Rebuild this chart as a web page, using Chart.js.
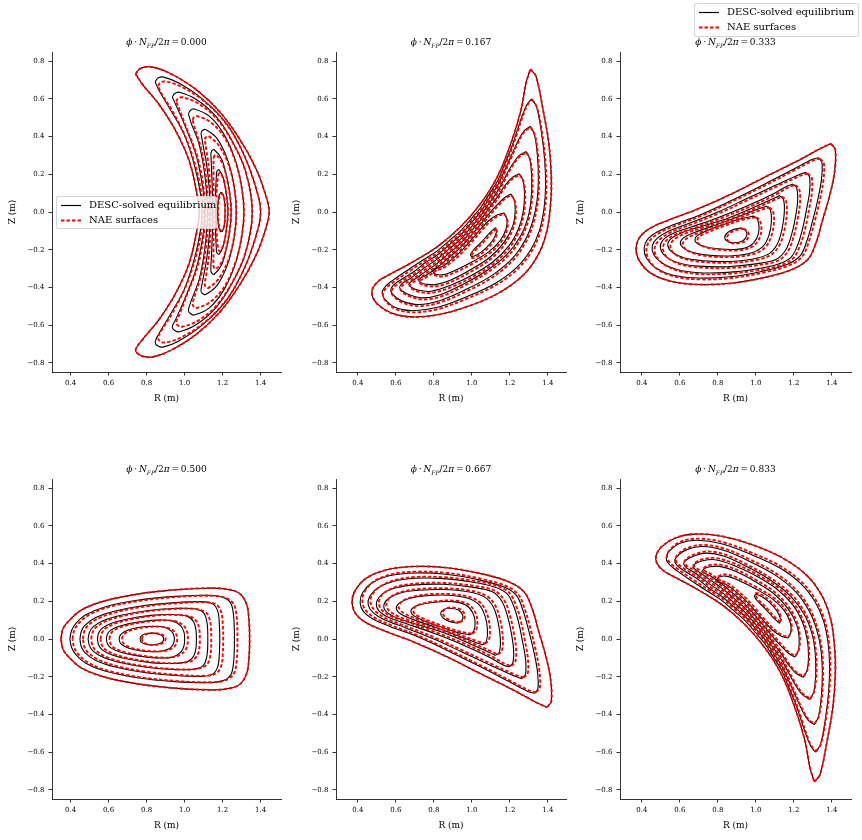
<!DOCTYPE html>
<html>
<head>
<meta charset="utf-8">
<script src="https://cdn.jsdelivr.net/npm/chart.js@4.4.0/dist/chart.umd.min.js"></script>
<style>
  body { margin: 0; background: #fff; }
  #fig { position: relative; width: 862px; height: 840px; overflow: hidden; font-family: 'DejaVu Serif', serif; }
  canvas { position: absolute; }
  .ttl { position: absolute; font-size: 9px; color: #000; white-space: nowrap; transform: translate(-50%, -50%); }
  .ttl sub { font-size: 6px; }
  .lgd { position: absolute; border: 1px solid rgba(204,204,204,0.8); border-radius: 3px;
         background: rgba(255,255,255,0.8); font-size: 10px; color: #000; z-index: 5; }
  .lgd .row { position: absolute; left: 0; height: 14px; line-height: 14px; white-space: nowrap; }
  .lgd svg { position: absolute; left: 4px; top: 6px; }
  .lgd span { position: absolute; left: 32px; top: 0; }
</style>
</head>
<body>
<div id="fig"></div>
<script>
// tick labels
const xTicks = [0.4, 0.6, 0.8, 1.0, 1.2, 1.4];
const yTicks = [-0.8, -0.6, -0.4, -0.2, 0.0, 0.2, 0.4, 0.6, 0.8];
const phases = ['0.000', '0.167', '0.333', '0.500', '0.667', '0.833'];
const seriesNames = ['DESC-solved equilibrium', 'NAE surfaces'];

// surfaces are flat lists R0,Z0,R1,Z1,... (metres), innermost first

// ---- phi*NFP/2pi = 0.000
const boundary000 = [0.742,0.731, 0.762,0.757, 0.80,0.769, 0.85,0.764, 0.937,0.728, 1.06,0.649, 1.182,0.534, 1.286,0.392, 1.374,0.233, 1.426,0.092, 1.445,0.0, 1.426,-0.092, 1.374,-0.233, 1.286,-0.392, 1.182,-0.534, 1.06,-0.649, 0.937,-0.728, 0.85,-0.764, 0.80,-0.769, 0.762,-0.757, 0.742,-0.731, 0.78,-0.674, 0.867,-0.568, 0.955,-0.427, 1.025,-0.268, 1.066,-0.092, 1.077,0.0, 1.066,0.092, 1.025,0.268, 0.955,0.427, 0.867,0.568, 0.78,0.674, 0.742,0.731];
const desc000 = [
  [1.193,0.105, 1.204,0.09, 1.211,0.05, 1.213,0.0, 1.211,-0.05, 1.204,-0.09, 1.193,-0.105, 1.182,-0.09, 1.176,-0.05, 1.174,0.0, 1.176,0.05, 1.182,0.09, 1.193,0.105],
  [1.168,0.21, 1.173,0.221, 1.182,0.223, 1.205,0.175, 1.222,0.08, 1.228,0.0, 1.222,-0.08, 1.205,-0.175, 1.182,-0.223, 1.173,-0.221, 1.168,-0.21, 1.163,-0.1, 1.162,0.0, 1.163,0.1, 1.168,0.21],
  [1.138,0.31, 1.144,0.325, 1.156,0.33, 1.195,0.28, 1.225,0.17, 1.242,0.06, 1.245,0.0, 1.242,-0.06, 1.225,-0.17, 1.195,-0.28, 1.156,-0.33, 1.144,-0.325, 1.138,-0.31, 1.142,-0.22, 1.146,-0.11, 1.148,0.0, 1.146,0.11, 1.142,0.22, 1.138,0.31],
  [1.086,0.418, 1.094,0.432, 1.11,0.437, 1.17,0.39, 1.225,0.28, 1.26,0.14, 1.272,0.0, 1.26,-0.14, 1.225,-0.28, 1.17,-0.39, 1.11,-0.437, 1.094,-0.432, 1.086,-0.418, 1.096,-0.36, 1.116,-0.25, 1.13,-0.12, 1.134,0.0, 1.13,0.12, 1.116,0.25, 1.096,0.36, 1.086,0.418],
  [1.02,0.52, 1.03,0.538, 1.05,0.546, 1.13,0.508, 1.208,0.41, 1.269,0.268, 1.302,0.12, 1.312,0.0, 1.302,-0.12, 1.269,-0.268, 1.208,-0.41, 1.13,-0.508, 1.05,-0.546, 1.03,-0.538, 1.02,-0.52, 1.035,-0.47, 1.077,-0.356, 1.108,-0.18, 1.12,0.0, 1.108,0.18, 1.077,0.356, 1.035,0.47, 1.02,0.52],
  [0.935,0.61, 0.948,0.628, 0.972,0.635, 1.06,0.598, 1.164,0.508, 1.252,0.374, 1.321,0.215, 1.356,0.0, 1.321,-0.215, 1.252,-0.374, 1.164,-0.508, 1.06,-0.598, 0.972,-0.635, 0.948,-0.628, 0.935,-0.61, 0.955,-0.565, 1.0,-0.462, 1.06,-0.303, 1.096,-0.127, 1.106,0.0, 1.096,0.127, 1.06,0.303, 1.0,0.462, 0.955,0.565, 0.935,0.61],
  [0.845,0.69, 0.86,0.71, 0.89,0.715, 0.972,0.682, 1.094,0.598, 1.217,0.472, 1.304,0.322, 1.365,0.162, 1.40,0.0, 1.365,-0.162, 1.304,-0.322, 1.217,-0.472, 1.094,-0.598, 0.972,-0.682, 0.89,-0.715, 0.86,-0.71, 0.845,-0.69, 0.862,-0.65, 0.92,-0.551, 0.998,-0.41, 1.051,-0.25, 1.083,-0.1, 1.092,0.0, 1.083,0.1, 1.051,0.25, 0.998,0.41, 0.92,0.551, 0.862,0.65, 0.845,0.69],
  boundary000
];
const nae000 = [
  [1.195,0.1, 1.205,0.086, 1.212,0.048, 1.214,0.0, 1.212,-0.048, 1.205,-0.086, 1.195,-0.1, 1.185,-0.086, 1.178,-0.048, 1.176,0.0, 1.178,0.048, 1.185,0.086, 1.195,0.1],
  [1.176,0.195, 1.181,0.205, 1.19,0.205, 1.208,0.16, 1.222,0.075, 1.228,0.0, 1.222,-0.075, 1.208,-0.16, 1.19,-0.205, 1.181,-0.205, 1.176,-0.195, 1.168,-0.1, 1.166,0.0, 1.168,0.1, 1.176,0.195],
  [1.152,0.286, 1.157,0.298, 1.167,0.302, 1.2,0.255, 1.226,0.16, 1.242,0.06, 1.245,0.0, 1.242,-0.06, 1.226,-0.16, 1.2,-0.255, 1.167,-0.302, 1.157,-0.298, 1.152,-0.286, 1.152,-0.2, 1.152,-0.1, 1.152,0.0, 1.152,0.1, 1.152,0.2, 1.152,0.286],
  [1.106,0.385, 1.113,0.398, 1.126,0.402, 1.178,0.355, 1.228,0.26, 1.26,0.135, 1.272,0.0, 1.26,-0.135, 1.228,-0.26, 1.178,-0.355, 1.126,-0.402, 1.113,-0.398, 1.106,-0.385, 1.114,-0.33, 1.128,-0.23, 1.135,-0.12, 1.138,0.0, 1.135,0.12, 1.128,0.23, 1.114,0.33, 1.106,0.385],
  [1.042,0.488, 1.05,0.503, 1.066,0.508, 1.134,0.478, 1.21,0.395, 1.269,0.262, 1.302,0.12, 1.312,0.0, 1.302,-0.12, 1.269,-0.262, 1.21,-0.395, 1.134,-0.478, 1.066,-0.508, 1.05,-0.503, 1.042,-0.488, 1.055,-0.44, 1.088,-0.33, 1.114,-0.17, 1.124,0.0, 1.114,0.17, 1.088,0.33, 1.055,0.44, 1.042,0.488],
  [0.955,0.585, 0.966,0.602, 0.987,0.608, 1.064,0.58, 1.164,0.5, 1.252,0.37, 1.321,0.213, 1.356,0.0, 1.321,-0.213, 1.252,-0.37, 1.164,-0.5, 1.064,-0.58, 0.987,-0.608, 0.966,-0.602, 0.955,-0.585, 0.972,-0.545, 1.012,-0.44, 1.068,-0.29, 1.1,-0.127, 1.11,0.0, 1.1,0.127, 1.068,0.29, 1.012,0.44, 0.972,0.545, 0.955,0.585],
  [0.86,0.668, 0.873,0.686, 0.897,0.692, 0.975,0.668, 1.094,0.594, 1.217,0.47, 1.304,0.321, 1.365,0.162, 1.40,0.0, 1.365,-0.162, 1.304,-0.321, 1.217,-0.47, 1.094,-0.594, 0.975,-0.668, 0.897,-0.692, 0.873,-0.686, 0.86,-0.668, 0.878,-0.628, 0.937,-0.533, 1.007,-0.392, 1.06,-0.233, 1.088,-0.1, 1.096,0.0, 1.088,0.1, 1.06,0.233, 1.007,0.392, 0.937,0.533, 0.878,0.628, 0.86,0.668],
  boundary000
];

// ---- phi*NFP/2pi = 0.167
const boundary167 = [1.308,0.757, 1.338,0.718, 1.375,0.54, 1.405,0.365, 1.418,0.19, 1.415,0.05, 1.395,-0.1, 1.35,-0.225, 1.27,-0.335, 1.14,-0.43, 0.98,-0.5, 0.82,-0.545, 0.68,-0.556, 0.58,-0.537, 0.505,-0.49, 0.476,-0.445, 0.478,-0.405, 0.51,-0.365, 0.56,-0.335, 0.677,-0.272, 0.818,-0.184, 0.941,-0.078, 1.047,0.046, 1.135,0.188, 1.206,0.365, 1.259,0.542, 1.285,0.683, 1.308,0.757];
const desc167 = [
  [1.125,-0.083, 1.13,-0.105, 1.11,-0.15, 1.07,-0.195, 1.03,-0.225, 1.0,-0.236, 0.993,-0.225, 1.01,-0.2, 1.05,-0.16, 1.09,-0.115, 1.125,-0.083],
  [1.17,-0.005, 1.185,-0.04, 1.18,-0.09, 1.15,-0.15, 1.09,-0.21, 1.0,-0.265, 0.91,-0.31, 0.85,-0.332, 0.81,-0.33, 0.795,-0.315, 0.805,-0.3, 0.84,-0.292, 0.88,-0.263, 0.941,-0.21, 1.0,-0.145, 1.047,-0.09, 1.09,-0.045, 1.135,-0.015, 1.17,-0.005],
  [1.206,0.095, 1.224,0.06, 1.228,0.0, 1.215,-0.075, 1.17,-0.16, 1.095,-0.24, 0.995,-0.305, 0.89,-0.36, 0.81,-0.385, 0.76,-0.383, 0.732,-0.375, 0.72,-0.362, 0.73,-0.35, 0.76,-0.335, 0.818,-0.294, 0.88,-0.241, 0.941,-0.188, 1.0,-0.12, 1.047,-0.064, 1.09,-0.01, 1.135,0.04, 1.175,0.078, 1.206,0.095],
  [1.25,0.203, 1.27,0.165, 1.277,0.09, 1.27,0.0, 1.245,-0.09, 1.195,-0.18, 1.11,-0.265, 1.0,-0.335, 0.885,-0.39, 0.785,-0.42, 0.72,-0.415, 0.683,-0.4, 0.668,-0.383, 0.68,-0.37, 0.72,-0.342, 0.75,-0.32, 0.818,-0.272, 0.88,-0.219, 0.941,-0.166, 1.0,-0.098, 1.047,-0.042, 1.09,0.02, 1.135,0.08, 1.17,0.135, 1.21,0.18, 1.25,0.203],
  [1.285,0.321, 1.305,0.28, 1.315,0.18, 1.312,0.07, 1.295,-0.03, 1.255,-0.13, 1.185,-0.225, 1.08,-0.31, 0.95,-0.385, 0.83,-0.44, 0.74,-0.455, 0.675,-0.44, 0.635,-0.42, 0.62,-0.40, 0.635,-0.377, 0.68,-0.35, 0.75,-0.296, 0.818,-0.25, 0.88,-0.197, 0.941,-0.144, 1.0,-0.076, 1.047,-0.02, 1.09,0.045, 1.135,0.11, 1.17,0.175, 1.206,0.24, 1.245,0.295, 1.285,0.321],
  [1.308,0.454, 1.33,0.41, 1.345,0.30, 1.35,0.18, 1.343,0.06, 1.32,-0.05, 1.28,-0.15, 1.21,-0.25, 1.10,-0.34, 0.96,-0.415, 0.83,-0.47, 0.72,-0.49, 0.64,-0.475, 0.595,-0.448, 0.573,-0.418, 0.585,-0.39, 0.625,-0.36, 0.70,-0.313, 0.75,-0.272, 0.818,-0.228, 0.88,-0.175, 0.941,-0.122, 1.0,-0.054, 1.047,0.002, 1.09,0.07, 1.135,0.14, 1.17,0.215, 1.206,0.295, 1.24,0.37, 1.275,0.43, 1.308,0.454],
  [1.315,0.60, 1.34,0.56, 1.365,0.43, 1.383,0.28, 1.388,0.14, 1.38,0.02, 1.355,-0.1, 1.31,-0.2, 1.235,-0.295, 1.12,-0.38, 0.97,-0.45, 0.82,-0.505, 0.69,-0.523, 0.6,-0.507, 0.548,-0.47, 0.528,-0.432, 0.54,-0.4, 0.58,-0.365, 0.677,-0.298, 0.75,-0.25, 0.818,-0.206, 0.88,-0.153, 0.941,-0.1, 1.0,-0.032, 1.047,0.024, 1.09,0.092, 1.135,0.164, 1.17,0.248, 1.206,0.335, 1.235,0.42, 1.265,0.51, 1.29,0.57, 1.315,0.60],
  boundary167
];
const nae167 = [
  [1.128,-0.09, 1.133,-0.112, 1.113,-0.158, 1.073,-0.203, 1.033,-0.233, 1.003,-0.244, 0.997,-0.233, 1.014,-0.208, 1.054,-0.168, 1.094,-0.122, 1.128,-0.09],
  [1.172,-0.01, 1.188,-0.047, 1.184,-0.098, 1.154,-0.159, 1.094,-0.219, 1.004,-0.274, 0.914,-0.319, 0.854,-0.341, 0.814,-0.339, 0.799,-0.324, 0.809,-0.309, 0.844,-0.301, 0.884,-0.272, 0.945,-0.219, 1.004,-0.154, 1.051,-0.099, 1.094,-0.053, 1.138,-0.021, 1.172,-0.01],
  [1.208,0.09, 1.227,0.054, 1.232,-0.007, 1.219,-0.083, 1.174,-0.169, 1.099,-0.249, 0.999,-0.314, 0.894,-0.369, 0.814,-0.394, 0.764,-0.392, 0.736,-0.384, 0.724,-0.371, 0.734,-0.359, 0.764,-0.344, 0.822,-0.303, 0.884,-0.25, 0.945,-0.197, 1.004,-0.129, 1.051,-0.073, 1.094,-0.018, 1.138,0.033, 1.177,0.072, 1.208,0.09],
  [1.252,0.198, 1.273,0.159, 1.281,0.083, 1.274,-0.008, 1.249,-0.099, 1.199,-0.189, 1.114,-0.274, 1.004,-0.344, 0.889,-0.399, 0.789,-0.429, 0.724,-0.424, 0.687,-0.409, 0.672,-0.392, 0.684,-0.379, 0.724,-0.351, 0.754,-0.329, 0.822,-0.281, 0.884,-0.228, 0.945,-0.175, 1.004,-0.107, 1.051,-0.051, 1.094,0.012, 1.138,0.073, 1.173,0.129, 1.212,0.175, 1.252,0.198],
  [1.287,0.316, 1.308,0.274, 1.319,0.173, 1.316,0.062, 1.299,-0.039, 1.259,-0.139, 1.189,-0.234, 1.084,-0.319, 0.954,-0.394, 0.834,-0.449, 0.744,-0.464, 0.679,-0.449, 0.639,-0.429, 0.624,-0.409, 0.639,-0.386, 0.684,-0.359, 0.754,-0.305, 0.822,-0.259, 0.884,-0.206, 0.945,-0.153, 1.004,-0.085, 1.051,-0.029, 1.094,0.037, 1.138,0.103, 1.173,0.169, 1.208,0.234, 1.247,0.29, 1.287,0.316],
  [1.31,0.449, 1.333,0.404, 1.349,0.293, 1.354,0.172, 1.347,0.052, 1.324,-0.059, 1.284,-0.159, 1.214,-0.259, 1.104,-0.349, 0.964,-0.424, 0.834,-0.479, 0.724,-0.499, 0.644,-0.484, 0.599,-0.457, 0.577,-0.427, 0.589,-0.399, 0.629,-0.369, 0.704,-0.322, 0.754,-0.281, 0.822,-0.237, 0.884,-0.184, 0.945,-0.131, 1.004,-0.063, 1.051,-0.006, 1.094,0.062, 1.138,0.133, 1.173,0.208, 1.208,0.289, 1.242,0.365, 1.277,0.426, 1.31,0.449],
  [1.317,0.596, 1.343,0.554, 1.369,0.423, 1.387,0.272, 1.392,0.131, 1.384,0.011, 1.359,-0.109, 1.314,-0.209, 1.239,-0.304, 1.124,-0.389, 0.974,-0.459, 0.824,-0.514, 0.694,-0.532, 0.604,-0.516, 0.552,-0.479, 0.532,-0.441, 0.544,-0.409, 0.584,-0.374, 0.681,-0.307, 0.754,-0.259, 0.822,-0.215, 0.884,-0.162, 0.945,-0.109, 1.004,-0.041, 1.051,0.016, 1.094,0.084, 1.138,0.157, 1.173,0.242, 1.208,0.329, 1.237,0.414, 1.267,0.505, 1.292,0.566, 1.317,0.596],
  boundary167
];

// ---- phi*NFP/2pi = 0.333
const boundary333 = [1.395,0.362, 1.418,0.33, 1.414,0.21, 1.388,0.085, 1.352,-0.04, 1.317,-0.163, 1.275,-0.25, 1.19,-0.305, 1.042,-0.348, 0.866,-0.378, 0.69,-0.384, 0.549,-0.366, 0.444,-0.322, 0.385,-0.255, 0.37,-0.195, 0.388,-0.135, 0.444,-0.086, 0.549,-0.04, 0.69,0.014, 0.866,0.093, 1.042,0.182, 1.218,0.27, 1.342,0.338, 1.395,0.362];
const desc333 = [
  [0.925,-0.084, 0.948,-0.1, 0.952,-0.125, 0.932,-0.152, 0.885,-0.163, 0.85,-0.155, 0.836,-0.135, 0.85,-0.11, 0.885,-0.092, 0.925,-0.084],
  [0.99,-0.022, 1.01,-0.042, 1.017,-0.09, 1.004,-0.14, 0.968,-0.18, 0.9,-0.198, 0.80,-0.195, 0.72,-0.18, 0.682,-0.157, 0.686,-0.13, 0.73,-0.105, 0.82,-0.07, 0.92,-0.036, 0.99,-0.022],
  [1.058,0.03, 1.077,0.01, 1.082,-0.05, 1.07,-0.12, 1.04,-0.18, 0.98,-0.216, 0.88,-0.232, 0.76,-0.23, 0.67,-0.215, 0.618,-0.19, 0.603,-0.16, 0.63,-0.13, 0.70,-0.1, 0.80,-0.065, 0.92,-0.02, 1.02,0.018, 1.058,0.03],
  [1.125,0.087, 1.145,0.068, 1.15,0.0, 1.138,-0.09, 1.113,-0.17, 1.068,-0.222, 0.98,-0.25, 0.85,-0.262, 0.72,-0.258, 0.625,-0.244, 0.562,-0.215, 0.537,-0.18, 0.55,-0.145, 0.61,-0.11, 0.72,-0.075, 0.86,-0.03, 0.99,0.025, 1.09,0.07, 1.125,0.087],
  [1.195,0.148, 1.215,0.128, 1.22,0.06, 1.208,-0.03, 1.188,-0.12, 1.158,-0.2, 1.108,-0.25, 1.0,-0.275, 0.85,-0.29, 0.70,-0.287, 0.595,-0.27, 0.525,-0.235, 0.498,-0.19, 0.51,-0.15, 0.56,-0.115, 0.66,-0.08, 0.80,-0.03, 0.95,0.03, 1.09,0.095, 1.165,0.138, 1.195,0.148],
  [1.262,0.21, 1.282,0.188, 1.283,0.11, 1.268,0.02, 1.248,-0.08, 1.222,-0.17, 1.185,-0.24, 1.115,-0.277, 1.0,-0.302, 0.85,-0.32, 0.70,-0.322, 0.585,-0.305, 0.505,-0.27, 0.462,-0.225, 0.455,-0.18, 0.48,-0.14, 0.54,-0.102, 0.65,-0.06, 0.80,0.0, 0.95,0.07, 1.10,0.14, 1.22,0.195, 1.262,0.21],
  [1.33,0.288, 1.348,0.262, 1.345,0.17, 1.325,0.06, 1.298,-0.05, 1.268,-0.155, 1.235,-0.23, 1.17,-0.275, 1.03,-0.315, 0.865,-0.343, 0.70,-0.35, 0.565,-0.335, 0.475,-0.298, 0.425,-0.245, 0.412,-0.192, 0.43,-0.145, 0.48,-0.106, 0.565,-0.068, 0.70,-0.018, 0.865,0.058, 1.04,0.145, 1.2,0.228, 1.295,0.278, 1.33,0.288],
  boundary333
];
const nae333 = [
  [0.935,-0.088, 0.958,-0.104, 0.962,-0.129, 0.942,-0.156, 0.895,-0.167, 0.86,-0.159, 0.847,-0.139, 0.861,-0.114, 0.896,-0.096, 0.935,-0.088],
  [1.002,-0.027, 1.022,-0.047, 1.029,-0.095, 1.016,-0.145, 0.979,-0.185, 0.91,-0.203, 0.81,-0.2, 0.73,-0.185, 0.694,-0.162, 0.698,-0.135, 0.742,-0.11, 0.831,-0.075, 0.931,-0.041, 1.002,-0.027],
  [1.07,0.025, 1.09,0.004, 1.095,-0.056, 1.082,-0.126, 1.051,-0.186, 0.99,-0.222, 0.888,-0.238, 0.768,-0.236, 0.679,-0.221, 0.629,-0.196, 0.616,-0.166, 0.643,-0.136, 0.712,-0.106, 0.811,-0.07, 0.931,-0.025, 1.031,0.013, 1.07,0.025],
  [1.137,0.082, 1.158,0.062, 1.163,-0.006, 1.15,-0.096, 1.124,-0.176, 1.078,-0.228, 0.988,-0.257, 0.857,-0.269, 0.727,-0.265, 0.633,-0.251, 0.572,-0.222, 0.55,-0.186, 0.564,-0.151, 0.623,-0.116, 0.732,-0.08, 0.871,-0.035, 1.0,0.02, 1.101,0.065, 1.137,0.082],
  [1.207,0.143, 1.228,0.122, 1.233,0.054, 1.22,-0.036, 1.2,-0.126, 1.17,-0.206, 1.118,-0.257, 1.008,-0.282, 0.857,-0.297, 0.707,-0.294, 0.603,-0.277, 0.535,-0.242, 0.511,-0.197, 0.524,-0.156, 0.573,-0.121, 0.672,-0.086, 0.811,-0.035, 0.961,0.025, 1.1,0.09, 1.176,0.133, 1.207,0.143],
  [1.272,0.205, 1.294,0.182, 1.295,0.104, 1.28,0.014, 1.26,-0.086, 1.233,-0.176, 1.195,-0.247, 1.124,-0.284, 1.008,-0.309, 0.857,-0.327, 0.707,-0.329, 0.593,-0.312, 0.515,-0.277, 0.474,-0.232, 0.468,-0.187, 0.494,-0.146, 0.553,-0.107, 0.661,-0.065, 0.81,-0.005, 0.96,0.065, 1.109,0.135, 1.23,0.19, 1.272,0.205],
  [1.338,0.283, 1.358,0.257, 1.355,0.165, 1.335,0.055, 1.308,-0.055, 1.278,-0.16, 1.244,-0.236, 1.178,-0.282, 1.036,-0.322, 0.87,-0.35, 0.705,-0.357, 0.572,-0.342, 0.484,-0.305, 0.436,-0.251, 0.424,-0.197, 0.443,-0.15, 0.492,-0.111, 0.575,-0.073, 0.708,-0.022, 0.872,0.054, 1.046,0.14, 1.206,0.223, 1.302,0.273, 1.338,0.283],
  boundary333
];

// ---- phi*NFP/2pi = 0.500
const boundary500 = [0.349,0.0, 0.36,0.055, 0.388,0.093, 0.457,0.154, 0.58,0.202, 0.754,0.238, 0.929,0.259, 1.103,0.269, 1.208,0.266, 1.287,0.243, 1.327,0.181, 1.339,0.093, 1.342,0.0, 1.339,-0.093, 1.327,-0.181, 1.287,-0.243, 1.208,-0.266, 1.103,-0.269, 0.929,-0.259, 0.754,-0.238, 0.58,-0.202, 0.457,-0.154, 0.388,-0.093, 0.36,-0.055, 0.349,0.0];
const desc500 = [
  [0.765,0.0, 0.772,0.017, 0.795,0.028, 0.83,0.031, 0.862,0.027, 0.883,0.015, 0.89,0.0, 0.883,-0.015, 0.862,-0.027, 0.83,-0.031, 0.795,-0.028, 0.772,-0.017, 0.765,0.0],
  [0.655,0.0, 0.662,0.022, 0.685,0.04, 0.73,0.056, 0.80,0.066, 0.87,0.066, 0.918,0.052, 0.94,0.028, 0.946,0.0, 0.94,-0.028, 0.918,-0.052, 0.87,-0.066, 0.80,-0.066, 0.73,-0.056, 0.685,-0.04, 0.662,-0.022, 0.655,0.0],
  [0.588,0.0, 0.594,0.026, 0.612,0.047, 0.66,0.069, 0.745,0.088, 0.85,0.1, 0.935,0.096, 0.98,0.07, 0.997,0.035, 1.0,0.0, 0.997,-0.035, 0.98,-0.07, 0.935,-0.096, 0.85,-0.1, 0.745,-0.088, 0.66,-0.069, 0.612,-0.047, 0.594,-0.026, 0.588,0.0],
  [0.541,0.0, 0.547,0.03, 0.565,0.056, 0.615,0.083, 0.70,0.106, 0.82,0.125, 0.93,0.13, 1.015,0.12, 1.048,0.09, 1.06,0.045, 1.062,0.0, 1.06,-0.045, 1.048,-0.09, 1.015,-0.12, 0.93,-0.13, 0.82,-0.125, 0.70,-0.106, 0.615,-0.083, 0.565,-0.056, 0.547,-0.03, 0.541,0.0],
  [0.492,0.0, 0.499,0.035, 0.517,0.063, 0.57,0.097, 0.665,0.126, 0.80,0.15, 0.94,0.162, 1.05,0.16, 1.1,0.138, 1.118,0.085, 1.122,0.0, 1.118,-0.085, 1.1,-0.138, 1.05,-0.16, 0.94,-0.162, 0.80,-0.15, 0.665,-0.126, 0.57,-0.097, 0.517,-0.063, 0.499,-0.035, 0.492,0.0],
  [0.449,0.0, 0.456,0.04, 0.475,0.072, 0.53,0.112, 0.63,0.147, 0.78,0.176, 0.95,0.193, 1.09,0.198, 1.148,0.186, 1.175,0.145, 1.183,0.075, 1.185,0.0, 1.183,-0.075, 1.175,-0.145, 1.148,-0.186, 1.09,-0.198, 0.95,-0.193, 0.78,-0.176, 0.63,-0.147, 0.53,-0.112, 0.475,-0.072, 0.456,-0.04, 0.449,0.0],
  [0.396,0.0, 0.405,0.045, 0.428,0.083, 0.48,0.128, 0.58,0.17, 0.75,0.205, 0.95,0.226, 1.12,0.232, 1.20,0.222, 1.243,0.19, 1.258,0.12, 1.262,0.0, 1.258,-0.12, 1.243,-0.19, 1.20,-0.222, 1.12,-0.232, 0.95,-0.226, 0.75,-0.205, 0.58,-0.17, 0.48,-0.128, 0.428,-0.083, 0.405,-0.045, 0.396,0.0],
  boundary500
];
const nae500 = [
  [0.775,0.0, 0.782,0.017, 0.805,0.028, 0.84,0.031, 0.872,0.027, 0.893,0.015, 0.9,0.0, 0.893,-0.015, 0.872,-0.027, 0.84,-0.031, 0.805,-0.028, 0.782,-0.017, 0.775,0.0],
  [0.67,0.0, 0.677,0.021, 0.7,0.039, 0.745,0.054, 0.815,0.064, 0.885,0.064, 0.933,0.05, 0.955,0.027, 0.961,0.0, 0.955,-0.027, 0.933,-0.05, 0.885,-0.064, 0.815,-0.064, 0.745,-0.054, 0.7,-0.039, 0.677,-0.021, 0.67,0.0],
  [0.604,0.0, 0.61,0.025, 0.628,0.046, 0.676,0.067, 0.761,0.086, 0.866,0.098, 0.951,0.094, 0.997,0.068, 1.014,0.034, 1.017,0.0, 1.014,-0.034, 0.997,-0.068, 0.951,-0.094, 0.866,-0.098, 0.761,-0.086, 0.676,-0.067, 0.628,-0.046, 0.61,-0.025, 0.604,0.0],
  [0.557,0.0, 0.563,0.029, 0.581,0.054, 0.631,0.081, 0.716,0.104, 0.836,0.123, 0.946,0.128, 1.032,0.118, 1.066,0.088, 1.078,0.044, 1.08,0.0, 1.078,-0.044, 1.066,-0.088, 1.032,-0.118, 0.946,-0.128, 0.836,-0.123, 0.716,-0.104, 0.631,-0.081, 0.581,-0.054, 0.563,-0.029, 0.557,0.0],
  [0.508,0.0, 0.515,0.034, 0.533,0.061, 0.586,0.095, 0.681,0.124, 0.816,0.148, 0.956,0.16, 1.067,0.158, 1.117,0.136, 1.136,0.083, 1.14,0.0, 1.136,-0.083, 1.117,-0.136, 1.067,-0.158, 0.956,-0.16, 0.816,-0.148, 0.681,-0.124, 0.586,-0.095, 0.533,-0.061, 0.515,-0.034, 0.508,0.0],
  [0.465,0.0, 0.471,0.038, 0.49,0.07, 0.545,0.109, 0.645,0.144, 0.795,0.173, 0.965,0.19, 1.106,0.195, 1.165,0.183, 1.193,0.142, 1.201,0.073, 1.203,0.0, 1.201,-0.073, 1.193,-0.142, 1.165,-0.183, 1.106,-0.195, 0.965,-0.19, 0.795,-0.173, 0.645,-0.144, 0.545,-0.109, 0.49,-0.07, 0.471,-0.038, 0.465,0.0],
  [0.41,0.0, 0.418,0.043, 0.44,0.08, 0.492,0.125, 0.592,0.167, 0.762,0.202, 0.962,0.223, 1.132,0.229, 1.212,0.219, 1.257,0.187, 1.274,0.117, 1.278,0.0, 1.274,-0.117, 1.257,-0.187, 1.212,-0.219, 1.132,-0.229, 0.962,-0.223, 0.762,-0.202, 0.592,-0.167, 0.492,-0.125, 0.44,-0.08, 0.418,-0.043, 0.41,0.0],
  boundary500
];

// ---- phi*NFP/2pi = 0.667
const boundary667 = [1.395,-0.362, 1.418,-0.33, 1.414,-0.21, 1.388,-0.085, 1.352,0.04, 1.317,0.163, 1.275,0.25, 1.19,0.305, 1.042,0.348, 0.866,0.378, 0.69,0.384, 0.549,0.366, 0.444,0.322, 0.385,0.255, 0.37,0.195, 0.388,0.135, 0.444,0.086, 0.549,0.04, 0.69,-0.014, 0.866,-0.093, 1.042,-0.182, 1.218,-0.27, 1.342,-0.338, 1.395,-0.362];
const desc667 = [
  [0.925,0.084, 0.948,0.1, 0.952,0.125, 0.932,0.152, 0.885,0.163, 0.85,0.155, 0.836,0.135, 0.85,0.11, 0.885,0.092, 0.925,0.084],
  [0.99,0.022, 1.01,0.042, 1.017,0.09, 1.004,0.14, 0.968,0.18, 0.9,0.198, 0.80,0.195, 0.72,0.18, 0.682,0.157, 0.686,0.13, 0.73,0.105, 0.82,0.07, 0.92,0.036, 0.99,0.022],
  [1.058,-0.03, 1.077,-0.01, 1.082,0.05, 1.07,0.12, 1.04,0.18, 0.98,0.216, 0.88,0.232, 0.76,0.23, 0.67,0.215, 0.618,0.19, 0.603,0.16, 0.63,0.13, 0.70,0.1, 0.80,0.065, 0.92,0.02, 1.02,-0.018, 1.058,-0.03],
  [1.125,-0.087, 1.145,-0.068, 1.15,0.0, 1.138,0.09, 1.113,0.17, 1.068,0.222, 0.98,0.25, 0.85,0.262, 0.72,0.258, 0.625,0.244, 0.562,0.215, 0.537,0.18, 0.55,0.145, 0.61,0.11, 0.72,0.075, 0.86,0.03, 0.99,-0.025, 1.09,-0.07, 1.125,-0.087],
  [1.195,-0.148, 1.215,-0.128, 1.22,-0.06, 1.208,0.03, 1.188,0.12, 1.158,0.2, 1.108,0.25, 1.0,0.275, 0.85,0.29, 0.70,0.287, 0.595,0.27, 0.525,0.235, 0.498,0.19, 0.51,0.15, 0.56,0.115, 0.66,0.08, 0.80,0.03, 0.95,-0.03, 1.09,-0.095, 1.165,-0.138, 1.195,-0.148],
  [1.262,-0.21, 1.282,-0.188, 1.283,-0.11, 1.268,-0.02, 1.248,0.08, 1.222,0.17, 1.185,0.24, 1.115,0.277, 1.0,0.302, 0.85,0.32, 0.70,0.322, 0.585,0.305, 0.505,0.27, 0.462,0.225, 0.455,0.18, 0.48,0.14, 0.54,0.102, 0.65,0.06, 0.80,0.0, 0.95,-0.07, 1.10,-0.14, 1.22,-0.195, 1.262,-0.21],
  [1.33,-0.288, 1.348,-0.262, 1.345,-0.17, 1.325,-0.06, 1.298,0.05, 1.268,0.155, 1.235,0.23, 1.17,0.275, 1.03,0.315, 0.865,0.343, 0.70,0.35, 0.565,0.335, 0.475,0.298, 0.425,0.245, 0.412,0.192, 0.43,0.145, 0.48,0.106, 0.565,0.068, 0.70,0.018, 0.865,-0.058, 1.04,-0.145, 1.2,-0.228, 1.295,-0.278, 1.33,-0.288],
  boundary667
];
const nae667 = [
  [0.935,0.088, 0.958,0.104, 0.962,0.129, 0.942,0.156, 0.895,0.167, 0.86,0.159, 0.847,0.139, 0.861,0.114, 0.896,0.096, 0.935,0.088],
  [1.002,0.027, 1.022,0.047, 1.029,0.095, 1.016,0.145, 0.979,0.185, 0.91,0.203, 0.81,0.2, 0.73,0.185, 0.694,0.162, 0.698,0.135, 0.742,0.11, 0.831,0.075, 0.931,0.041, 1.002,0.027],
  [1.07,-0.025, 1.09,-0.004, 1.095,0.056, 1.082,0.126, 1.051,0.186, 0.99,0.222, 0.888,0.238, 0.768,0.236, 0.679,0.221, 0.629,0.196, 0.616,0.166, 0.643,0.136, 0.712,0.106, 0.811,0.07, 0.931,0.025, 1.031,-0.013, 1.07,-0.025],
  [1.137,-0.082, 1.158,-0.062, 1.163,0.006, 1.15,0.096, 1.124,0.176, 1.078,0.228, 0.988,0.257, 0.857,0.269, 0.727,0.265, 0.633,0.251, 0.572,0.222, 0.55,0.186, 0.564,0.151, 0.623,0.116, 0.732,0.08, 0.871,0.035, 1.0,-0.02, 1.101,-0.065, 1.137,-0.082],
  [1.207,-0.143, 1.228,-0.122, 1.233,-0.054, 1.22,0.036, 1.2,0.126, 1.17,0.206, 1.118,0.257, 1.008,0.282, 0.857,0.297, 0.707,0.294, 0.603,0.277, 0.535,0.242, 0.511,0.197, 0.524,0.156, 0.573,0.121, 0.672,0.086, 0.811,0.035, 0.961,-0.025, 1.1,-0.09, 1.176,-0.133, 1.207,-0.143],
  [1.272,-0.205, 1.294,-0.182, 1.295,-0.104, 1.28,-0.014, 1.26,0.086, 1.233,0.176, 1.195,0.247, 1.124,0.284, 1.008,0.309, 0.857,0.327, 0.707,0.329, 0.593,0.312, 0.515,0.277, 0.474,0.232, 0.468,0.187, 0.494,0.146, 0.553,0.107, 0.661,0.065, 0.81,0.005, 0.96,-0.065, 1.109,-0.135, 1.23,-0.19, 1.272,-0.205],
  [1.338,-0.283, 1.358,-0.257, 1.355,-0.165, 1.335,-0.055, 1.308,0.055, 1.278,0.16, 1.244,0.236, 1.178,0.282, 1.036,0.322, 0.87,0.35, 0.705,0.357, 0.572,0.342, 0.484,0.305, 0.436,0.251, 0.424,0.197, 0.443,0.15, 0.492,0.111, 0.575,0.073, 0.708,0.022, 0.872,-0.054, 1.046,-0.14, 1.206,-0.223, 1.302,-0.273, 1.338,-0.283],
  boundary667
];

// ---- phi*NFP/2pi = 0.833
const boundary833 = [1.308,-0.757, 1.338,-0.718, 1.375,-0.54, 1.405,-0.365, 1.418,-0.19, 1.415,-0.05, 1.395,0.1, 1.35,0.225, 1.27,0.335, 1.14,0.43, 0.98,0.5, 0.82,0.545, 0.68,0.556, 0.58,0.537, 0.505,0.49, 0.476,0.445, 0.478,0.405, 0.51,0.365, 0.56,0.335, 0.677,0.272, 0.818,0.184, 0.941,0.078, 1.047,-0.046, 1.135,-0.188, 1.206,-0.365, 1.259,-0.542, 1.285,-0.683, 1.308,-0.757];
const desc833 = [
  [1.125,0.083, 1.13,0.105, 1.11,0.15, 1.07,0.195, 1.03,0.225, 1.0,0.236, 0.993,0.225, 1.01,0.2, 1.05,0.16, 1.09,0.115, 1.125,0.083],
  [1.17,0.005, 1.185,0.04, 1.18,0.09, 1.15,0.15, 1.09,0.21, 1.0,0.265, 0.91,0.31, 0.85,0.332, 0.81,0.33, 0.795,0.315, 0.805,0.3, 0.84,0.292, 0.88,0.263, 0.941,0.21, 1.0,0.145, 1.047,0.09, 1.09,0.045, 1.135,0.015, 1.17,0.005],
  [1.206,-0.095, 1.224,-0.06, 1.228,0.0, 1.215,0.075, 1.17,0.16, 1.095,0.24, 0.995,0.305, 0.89,0.36, 0.81,0.385, 0.76,0.383, 0.732,0.375, 0.72,0.362, 0.73,0.35, 0.76,0.335, 0.818,0.294, 0.88,0.241, 0.941,0.188, 1.0,0.12, 1.047,0.064, 1.09,0.01, 1.135,-0.04, 1.175,-0.078, 1.206,-0.095],
  [1.25,-0.203, 1.27,-0.165, 1.277,-0.09, 1.27,0.0, 1.245,0.09, 1.195,0.18, 1.11,0.265, 1.0,0.335, 0.885,0.39, 0.785,0.42, 0.72,0.415, 0.683,0.4, 0.668,0.383, 0.68,0.37, 0.72,0.342, 0.75,0.32, 0.818,0.272, 0.88,0.219, 0.941,0.166, 1.0,0.098, 1.047,0.042, 1.09,-0.02, 1.135,-0.08, 1.17,-0.135, 1.21,-0.18, 1.25,-0.203],
  [1.285,-0.321, 1.305,-0.28, 1.315,-0.18, 1.312,-0.07, 1.295,0.03, 1.255,0.13, 1.185,0.225, 1.08,0.31, 0.95,0.385, 0.83,0.44, 0.74,0.455, 0.675,0.44, 0.635,0.42, 0.62,0.40, 0.635,0.377, 0.68,0.35, 0.75,0.296, 0.818,0.25, 0.88,0.197, 0.941,0.144, 1.0,0.076, 1.047,0.02, 1.09,-0.045, 1.135,-0.11, 1.17,-0.175, 1.206,-0.24, 1.245,-0.295, 1.285,-0.321],
  [1.308,-0.454, 1.33,-0.41, 1.345,-0.30, 1.35,-0.18, 1.343,-0.06, 1.32,0.05, 1.28,0.15, 1.21,0.25, 1.10,0.34, 0.96,0.415, 0.83,0.47, 0.72,0.49, 0.64,0.475, 0.595,0.448, 0.573,0.418, 0.585,0.39, 0.625,0.36, 0.70,0.313, 0.75,0.272, 0.818,0.228, 0.88,0.175, 0.941,0.122, 1.0,0.054, 1.047,-0.002, 1.09,-0.07, 1.135,-0.14, 1.17,-0.215, 1.206,-0.295, 1.24,-0.37, 1.275,-0.43, 1.308,-0.454],
  [1.315,-0.60, 1.34,-0.56, 1.365,-0.43, 1.383,-0.28, 1.388,-0.14, 1.38,-0.02, 1.355,0.1, 1.31,0.2, 1.235,0.295, 1.12,0.38, 0.97,0.45, 0.82,0.505, 0.69,0.523, 0.6,0.507, 0.548,0.47, 0.528,0.432, 0.54,0.4, 0.58,0.365, 0.677,0.298, 0.75,0.25, 0.818,0.206, 0.88,0.153, 0.941,0.1, 1.0,0.032, 1.047,-0.024, 1.09,-0.092, 1.135,-0.164, 1.17,-0.248, 1.206,-0.335, 1.235,-0.42, 1.265,-0.51, 1.29,-0.57, 1.315,-0.60],
  boundary833
];
const nae833 = [
  [1.128,0.09, 1.133,0.112, 1.113,0.158, 1.073,0.203, 1.033,0.233, 1.003,0.244, 0.997,0.233, 1.014,0.208, 1.054,0.168, 1.094,0.122, 1.128,0.09],
  [1.172,0.01, 1.188,0.047, 1.184,0.098, 1.154,0.159, 1.094,0.219, 1.004,0.274, 0.914,0.319, 0.854,0.341, 0.814,0.339, 0.799,0.324, 0.809,0.309, 0.844,0.301, 0.884,0.272, 0.945,0.219, 1.004,0.154, 1.051,0.099, 1.094,0.053, 1.138,0.021, 1.172,0.01],
  [1.208,-0.09, 1.227,-0.054, 1.232,0.007, 1.219,0.083, 1.174,0.169, 1.099,0.249, 0.999,0.314, 0.894,0.369, 0.814,0.394, 0.764,0.392, 0.736,0.384, 0.724,0.371, 0.734,0.359, 0.764,0.344, 0.822,0.303, 0.884,0.25, 0.945,0.197, 1.004,0.129, 1.051,0.073, 1.094,0.018, 1.138,-0.033, 1.177,-0.072, 1.208,-0.09],
  [1.252,-0.198, 1.273,-0.159, 1.281,-0.083, 1.274,0.008, 1.249,0.099, 1.199,0.189, 1.114,0.274, 1.004,0.344, 0.889,0.399, 0.789,0.429, 0.724,0.424, 0.687,0.409, 0.672,0.392, 0.684,0.379, 0.724,0.351, 0.754,0.329, 0.822,0.281, 0.884,0.228, 0.945,0.175, 1.004,0.107, 1.051,0.051, 1.094,-0.012, 1.138,-0.073, 1.173,-0.129, 1.212,-0.175, 1.252,-0.198],
  [1.287,-0.316, 1.308,-0.274, 1.319,-0.173, 1.316,-0.062, 1.299,0.039, 1.259,0.139, 1.189,0.234, 1.084,0.319, 0.954,0.394, 0.834,0.449, 0.744,0.464, 0.679,0.449, 0.639,0.429, 0.624,0.409, 0.639,0.386, 0.684,0.359, 0.754,0.305, 0.822,0.259, 0.884,0.206, 0.945,0.153, 1.004,0.085, 1.051,0.029, 1.094,-0.037, 1.138,-0.103, 1.173,-0.169, 1.208,-0.234, 1.247,-0.29, 1.287,-0.316],
  [1.31,-0.449, 1.333,-0.404, 1.349,-0.293, 1.354,-0.172, 1.347,-0.052, 1.324,0.059, 1.284,0.159, 1.214,0.259, 1.104,0.349, 0.964,0.424, 0.834,0.479, 0.724,0.499, 0.644,0.484, 0.599,0.457, 0.577,0.427, 0.589,0.399, 0.629,0.369, 0.704,0.322, 0.754,0.281, 0.822,0.237, 0.884,0.184, 0.945,0.131, 1.004,0.063, 1.051,0.006, 1.094,-0.062, 1.138,-0.133, 1.173,-0.208, 1.208,-0.289, 1.242,-0.365, 1.277,-0.426, 1.31,-0.449],
  [1.317,-0.596, 1.343,-0.554, 1.369,-0.423, 1.387,-0.272, 1.392,-0.131, 1.384,-0.011, 1.359,0.109, 1.314,0.209, 1.239,0.304, 1.124,0.389, 0.974,0.459, 0.824,0.514, 0.694,0.532, 0.604,0.516, 0.552,0.479, 0.532,0.441, 0.544,0.409, 0.584,0.374, 0.681,0.307, 0.754,0.259, 0.822,0.215, 0.884,0.162, 0.945,0.109, 1.004,0.041, 1.051,-0.016, 1.094,-0.084, 1.138,-0.157, 1.173,-0.242, 1.208,-0.329, 1.237,-0.414, 1.267,-0.505, 1.292,-0.566, 1.317,-0.596],
  boundary833
];

const descAll = [desc000, desc167, desc333, desc500, desc667, desc833];
const naeAll = [nae000, nae167, nae333, nae500, nae667, nae833];

// layout of the 2x3 grid (pixels)
const plotLeft = [52, 336, 620];
const plotWidth = [229, 230, 231];
const xMinCol = [0.302, 0.285, 0.285];
const plotTop = [52, 479];
const plotHeight = 320;
const AXW = 52, AXH = 38, PADT = 22, PADR = 8;

Chart.defaults.font.family = "'DejaVu Serif', serif";
Chart.defaults.color = '#000';

function toPts(a) {
  const p = [];
  for (let i = 0; i < a.length; i += 2) p.push({x: a[i], y: a[i + 1]});
  return p;
}
function fmt(v) {
  return v.toFixed(1).replace('-', '\u2212');
}

const fig = document.getElementById('fig');

for (let k = 0; k < 6; k++) {
  const col = k % 3, row = Math.floor(k / 3);
  const w = plotWidth[col];
  const cv = document.createElement('canvas');
  const cw = AXW + w + PADR, ch = PADT + plotHeight + AXH;
  cv.width = cw; cv.height = ch;
  cv.style.left = (plotLeft[col] - AXW) + 'px';
  cv.style.top = (plotTop[row] - PADT) + 'px';
  cv.style.width = cw + 'px'; cv.style.height = ch + 'px';
  fig.appendChild(cv);

  const datasets = [];
  descAll[k].forEach(function (s) {
    datasets.push({label: seriesNames[0], data: toPts(s), showLine: true, borderColor: '#000',
      borderWidth: 1.1, pointRadius: 0, tension: 0.35, order: 1, borderJoinStyle: 'round'});
  });
  naeAll[k].forEach(function (s) {
    datasets.push({label: seriesNames[1], data: toPts(s), showLine: true, borderColor: '#ff0000',
      borderWidth: 1.9, borderDash: [3.5, 2], pointRadius: 0, tension: 0.35, order: 0, borderJoinStyle: 'round'});
  });

  const xmin = xMinCol[col];
  const xmax = xmin + w / 190;
  new Chart(cv, {
    type: 'scatter',
    data: {datasets: datasets},
    options: {
      animation: false,
      responsive: false,
      devicePixelRatio: 1,
      layout: {padding: {left: 0, right: PADR, top: PADT, bottom: 0}},
      plugins: {legend: {display: false}, tooltip: {enabled: false}},
      scales: {
        x: {
          type: 'linear', min: xmin, max: xmax,
          afterBuildTicks: function (s) { s.ticks = xTicks.map(function (v) { return {value: v}; }); },
          afterFit: function (s) { s.height = AXH; },
          grid: {display: true, drawOnChartArea: false, drawTicks: true, tickLength: 3.5, tickWidth: 0.8, color: '#000'},
          border: {display: true, color: '#000', width: 0.8},
          ticks: {font: {size: 7}, color: '#000', padding: 3, maxRotation: 0, autoSkip: false,
                  callback: function (v) { return fmt(v); }},
          title: {display: true, text: 'R (m)', font: {size: 9}, color: '#000', padding: {top: 0, bottom: 6}}
        },
        y: {
          type: 'linear', min: -0.848, max: 0.848,
          afterBuildTicks: function (s) { s.ticks = yTicks.map(function (v) { return {value: v}; }); },
          afterFit: function (s) { s.width = AXW; },
          grid: {display: true, drawOnChartArea: false, drawTicks: true, tickLength: 3.5, tickWidth: 0.8, color: '#000'},
          border: {display: true, color: '#000', width: 0.8},
          ticks: {font: {size: 7}, color: '#000', padding: 4, autoSkip: false,
                  callback: function (v) { return fmt(v); }},
          title: {display: true, text: 'Z (m)', font: {size: 9}, color: '#000', padding: {top: 7, bottom: 0}}
        }
      }
    }
  });

  const t = document.createElement('div');
  t.className = 'ttl';
  t.style.left = (plotLeft[col] + w / 2) + 'px';
  t.style.top = (plotTop[row] - 9) + 'px';
  t.innerHTML = '<i>\u03d5</i>\u2009\u00b7\u2009<i>N</i><sub><i>FP</i></sub>/2<i>\u03c0</i>\u2009=\u2009' + phases[k];
  fig.appendChild(t);
}

function makeLegend(left, top, width, height) {
  const d = document.createElement('div');
  d.className = 'lgd';
  d.style.left = left + 'px'; d.style.top = top + 'px';
  d.style.width = width + 'px'; d.style.height = height + 'px';
  const rows = [
    {y: 1, svg: '<line x1="0" y1="1.5" x2="20" y2="1.5" stroke="#000" stroke-width="1.2"/>'},
    {y: 15.5, svg: '<line x1="0" y1="1.5" x2="20" y2="1.5" stroke="#ff0000" stroke-width="1.9" stroke-dasharray="3.5,2"/>'}
  ];
  rows.forEach(function (r, i) {
    const e = document.createElement('div');
    e.className = 'row';
    e.style.top = r.y + 'px';
    e.innerHTML = '<svg width="22" height="3">' + r.svg + '</svg><span>' + seriesNames[i] + '</span>';
    d.appendChild(e);
  });
  fig.appendChild(d);
}
makeLegend(56, 196, 159, 31);
makeLegend(694, 3, 163, 32);
</script>
</body>
</html>
